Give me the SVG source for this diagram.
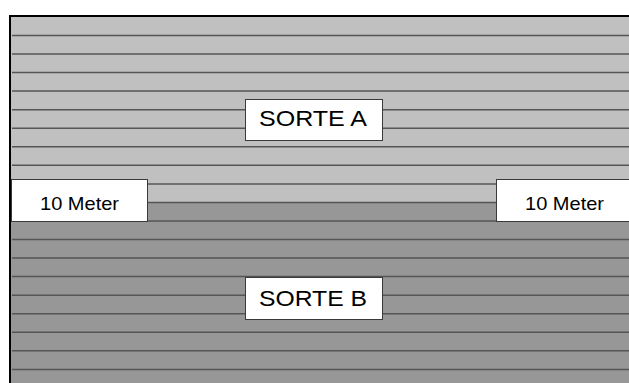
<svg xmlns="http://www.w3.org/2000/svg" width="629" height="383" viewBox="0 0 629 383">
<defs>
<style>
.ln{stroke:#555;stroke-width:1.5}
.hl{stroke:#9a9a9a;stroke-width:1}
.box{fill:#fff;stroke:#3a3a3a;stroke-width:1}
.t{font-family:"Liberation Sans",Arial,sans-serif;fill:#000;text-anchor:middle}
</style>
</defs>
<rect x="0" y="0" width="629" height="383" fill="#fff"/>
<g id="sorte-a-area">
<rect x="11" y="16" width="618" height="188" fill="#c0c0c0"/>
</g>
<g id="sorte-b-area">
<rect x="11" y="203" width="618" height="180" fill="#979797"/>
</g>
<g id="stripes">
<path class="ln" d="M12 35.5H629M12 54H629M12 72.6H629M12 91.1H629M12 109.7H629M12 128.2H629M12 146.8H629M12 165.3H629M12 183.9H629M12 202.4H629M12 221H629M12 239.5H629M12 258.1H629M12 276.6H629M12 295.2H629M12 313.7H629M12 332.3H629M12 350.8H629M12 369.4H629"/>
</g>
<g id="border">
<path d="M10 383V16H629" fill="none" stroke="#000" stroke-width="2"/>
</g>
<g id="sorte-a">
<rect class="box" x="245.5" y="99.5" width="137" height="41"/>
<text class="t" x="313" y="126" font-size="22" textLength="108" lengthAdjust="spacingAndGlyphs">SORTE A</text>
</g>
<g id="sorte-b">
<rect class="box" x="245.5" y="277.5" width="137" height="42"/>
<text class="t" x="313" y="305.5" font-size="22" textLength="108" lengthAdjust="spacingAndGlyphs">SORTE B</text>
</g>
<g id="label-left">
<rect class="box" x="11.5" y="179.5" width="136" height="42"/>
<text class="t" x="79.5" y="210" font-size="19" textLength="79" lengthAdjust="spacingAndGlyphs">10 Meter</text>
</g>
<g id="label-right">
<rect class="box" x="496.5" y="179.5" width="140" height="42"/>
<text class="t" x="564.5" y="210" font-size="19" textLength="79" lengthAdjust="spacingAndGlyphs">10 Meter</text>
</g>
</svg>
